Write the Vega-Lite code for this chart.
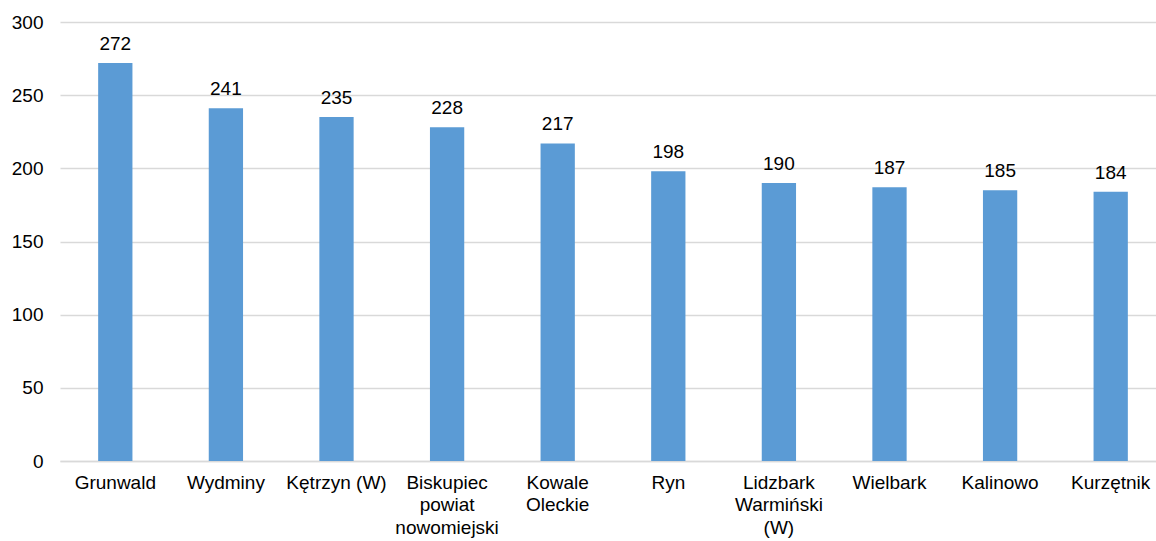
{
  "$schema": "https://vega.github.io/schema/vega-lite/v6.json",
  "width": 1106,
  "height": 439,
  "autosize": {"type": "none"},
  "padding": {"left": 60, "top": 22, "right": 0, "bottom": 80},
  "background": "white",
  "config": {"view": {"stroke": null}, "font": "Liberation Sans"},
  "data": {"values": [
    {"gmina": "Grunwald", "value": 272},
    {"gmina": "Wydminy", "value": 241},
    {"gmina": "Kętrzyn (W)", "value": 235},
    {"gmina": "Biskupiec powiat nowomiejski", "value": 228},
    {"gmina": "Kowale Oleckie", "value": 217},
    {"gmina": "Ryn", "value": 198},
    {"gmina": "Lidzbark Warmiński (W)", "value": 190},
    {"gmina": "Wielbark", "value": 187},
    {"gmina": "Kalinowo", "value": 185},
    {"gmina": "Kurzętnik", "value": 184}
  ]},
  "encoding": {
    "x": {"field": "gmina", "type": "nominal", "sort": null,
      "scale": {"paddingInner": 0.69, "paddingOuter": 0.345},
      "axis": {"title": null, "labelAngle": 0, "ticks": false, "domain": true, "domainColor": "#d9d9d9", "domainWidth": 1.5,
        "labelFontSize": 19, "labelColor": "#000000", "labelPadding": 12, "labelLineHeight": 22.5, "labelBaseline": "top",
        "labelExpr": "datum.label == 'Biskupiec powiat nowomiejski' ? ['Biskupiec','powiat','nowomiejski'] : datum.label == 'Kowale Oleckie' ? ['Kowale','Oleckie'] : datum.label == 'Lidzbark Warmiński (W)' ? ['Lidzbark','Warmiński','(W)'] : datum.label"}},
    "y": {"field": "value", "type": "quantitative",
      "scale": {"domain": [0, 300], "nice": false},
      "axis": {"title": null, "values": [0, 50, 100, 150, 200, 250, 300], "ticks": false, "domain": false,
        "grid": true, "gridColor": "#d9d9d9", "gridWidth": 1.5,
        "labelFontSize": 19, "labelColor": "#000000", "labelPadding": 17}}
  },
  "layer": [
    {"mark": {"type": "bar", "color": "#5B9BD5"}},
    {"mark": {"type": "text", "baseline": "alphabetic", "dy": -13, "fontSize": 19, "color": "#000000"},
     "encoding": {"text": {"field": "value", "type": "quantitative"}}}
  ]
}
